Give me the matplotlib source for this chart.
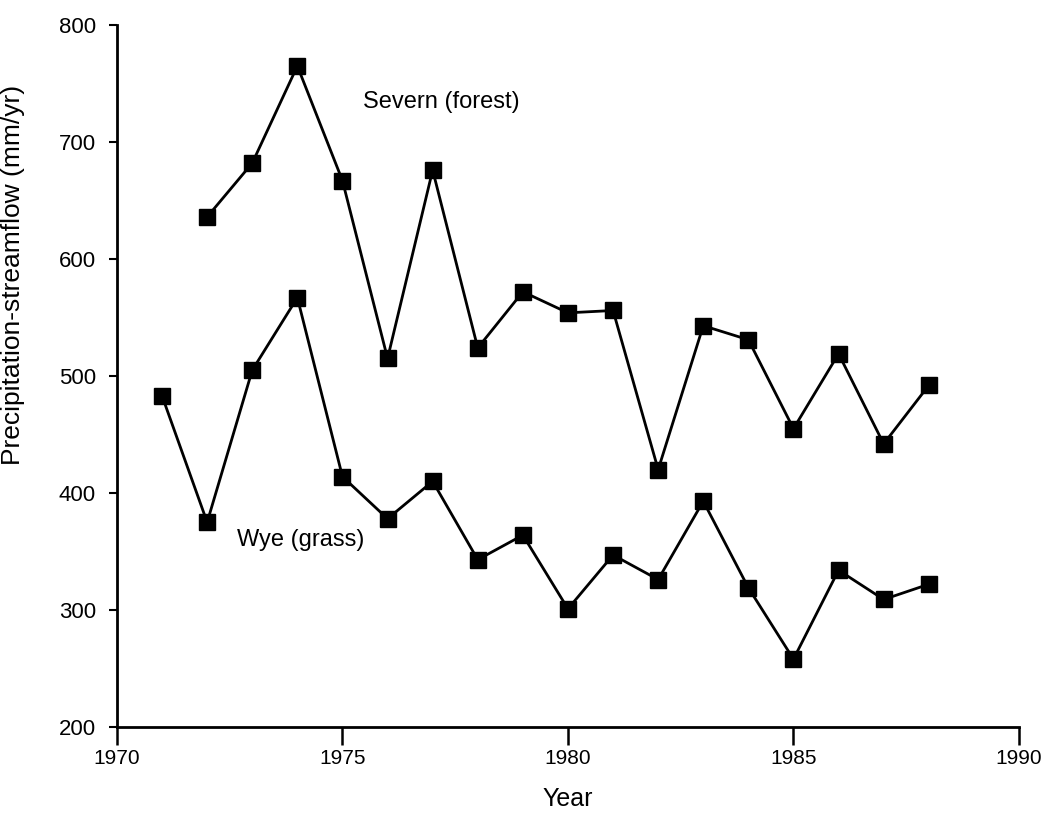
import matplotlib
matplotlib.use("Agg")
import matplotlib.pyplot as plt

plt.rcParams['font.family'] = ['Liberation Sans', 'DejaVu Sans']

severn_years = [1972, 1973, 1974, 1975, 1976, 1977, 1978, 1979, 1980, 1981,
                1982, 1983, 1984, 1985, 1986, 1987, 1988]
severn_vals = [636, 682, 765, 667, 515, 676, 524, 572, 554, 556,
               420, 543, 531, 455, 519, 442, 492]

wye_years = [1971, 1972, 1973, 1974, 1975, 1976, 1977, 1978, 1979, 1980,
             1981, 1982, 1983, 1984, 1985, 1986, 1987, 1988]
wye_vals = [483, 375, 505, 567, 414, 378, 410, 343, 364, 301,
            347, 326, 393, 319, 258, 334, 309, 322]

x_ticks = [1970, 1975, 1980, 1985, 1990]
y_ticks = [200, 300, 400, 500, 600, 700, 800]

fig = plt.figure(figsize=(10.48, 8.13), dpi=100)
ax = fig.add_axes([0.1116, 0.1058, 0.8607, 0.8634])

for yrs, vals in [(severn_years, severn_vals), (wye_years, wye_vals)]:
    ax.plot(yrs, vals, color='black', linewidth=2.0, marker='s',
            markersize=12, markerfacecolor='black', markeredgecolor='black',
            clip_on=False)

ax.set_xlim(1970, 1990)
ax.set_ylim(200, 800)
ax.set_xticks(x_ticks)
ax.set_yticks(y_ticks)
ax.spines['top'].set_visible(False)
ax.spines['right'].set_visible(False)
ax.spines['left'].set_linewidth(2.0)
ax.spines['bottom'].set_linewidth(2.0)
ax.tick_params(axis='x', direction='out', length=13, width=1.8, labelsize=15, pad=3)
ax.tick_params(axis='y', direction='out', length=6, width=1.5, labelsize=16, pad=9)

ax.set_xlabel('Year', fontsize=18)
ax.xaxis.set_label_coords(0.5, -0.086)
ax.set_ylabel('Precipitation-streamflow (mm/yr)', fontsize=19)
ax.yaxis.set_label_coords(-0.102, 0.644)

ax.text(1975.45, 734, 'Severn (forest)', fontsize=17, va='center', ha='left')
ax.text(1972.66, 360, 'Wye (grass)', fontsize=17, va='center', ha='left')

fig.savefig('out.png', dpi=100)
